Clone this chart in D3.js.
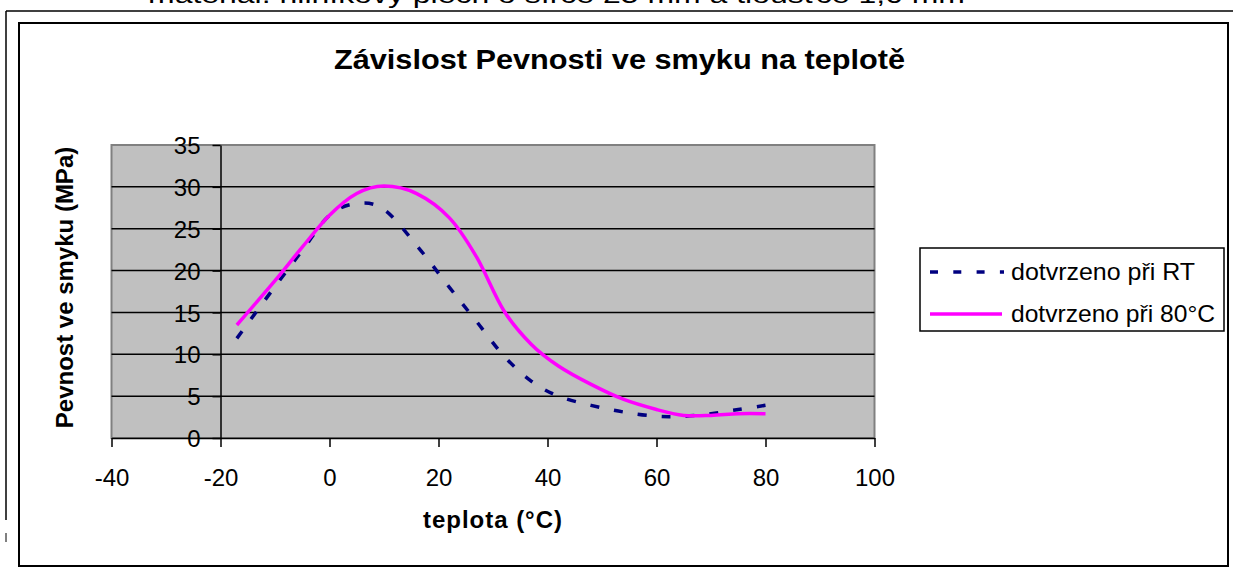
<!DOCTYPE html>
<html><head><meta charset="utf-8">
<script src="https://cdn.jsdelivr.net/npm/d3@7"></script>
<style>html,body{margin:0;padding:0;background:#fff;}svg{display:block;font-family:"Liberation Sans",Arial,sans-serif;}</style>
</head><body>
<svg id="c" width="1233" height="567"></svg>
<script>
const temperatures = [-17,-10,-5,0,5,10,16,22,27,32,37,42,48,54,60,65,70,75,80];
const seriesRT = [11.9,18.1,22.4,26.6,28.0,27.3,23.0,18.0,13.9,9.8,6.8,5.0,3.9,3.1,2.6,2.6,2.9,3.4,3.9];
const series80 = [13.5,18.8,22.8,26.6,29.2,30.1,29.2,26.3,21.6,15.2,11.2,8.6,6.4,4.6,3.4,2.7,2.7,2.9,2.9];
const seriesNames = ["dotvrzeno při RT","dotvrzeno při 80°C"];
const xTicks = [-40,-20,0,20,40,60,80,100];
const yTicks = [0,5,10,15,20,25,30,35];
const titleText = "Závislost Pevnosti ve smyku na teplotě";
const xLabel = "teplota (°C)";
const yLabel = "Pevnost ve smyku (MPa)";
const topText = "materiál: hliníkový plech o šířce 25 mm a tloušťce 1,6 mm";

const svg = d3.select("#c");
const x = d3.scaleLinear().domain([-40,100]).range([111.5,874.5]);
const y = d3.scaleLinear().domain([0,35]).range([438,145]);

// page text cut at top
svg.append("text").attr("x",148).attr("y",3).attr("font-size",24)
  .attr("textLength",817).attr("lengthAdjust","spacingAndGlyphs").text(topText);
// page border lines
svg.append("line").attr("x1",6).attr("x2",1233).attr("y1",11).attr("y2",11).attr("stroke","#000").attr("stroke-width",1.5);
svg.append("line").attr("x1",6).attr("x2",6).attr("y1",11).attr("y2",520).attr("stroke","#000").attr("stroke-width",1.5);
svg.append("line").attr("x1",6).attr("x2",6).attr("y1",533).attr("y2",542).attr("stroke","#000").attr("stroke-width",1);
// chart frame
svg.append("rect").attr("x",19).attr("y",23).attr("width",1209).attr("height",543)
  .attr("fill","#fff").attr("stroke","#000").attr("stroke-width",2);

// plot area
svg.append("rect").attr("x",x(-40)).attr("y",y(35)).attr("width",x(100)-x(-40)).attr("height",y(0)-y(35))
  .attr("fill","#C0C0C0").attr("stroke","#808080").attr("stroke-width",2);

// gridlines
svg.append("g").selectAll("line").data(yTicks.filter(d=>d>0&&d<35)).join("line")
  .attr("x1",x(-40)).attr("x2",x(100)).attr("y1",d=>y(d)).attr("y2",d=>y(d))
  .attr("stroke","#000").attr("stroke-width",1.5);

// x axis
const gx = svg.append("g").attr("transform",`translate(0,${y(0)})`)
  .call(d3.axisBottom(x).tickValues(xTicks).tickSize(9).tickSizeOuter(0).tickFormat(d3.format("d")));
gx.select(".domain").attr("stroke","#000").attr("stroke-width",1.5);
gx.selectAll(".tick line").attr("stroke","#000").attr("stroke-width",1.5);
gx.selectAll(".tick text").attr("font-size",24).attr("font-family",null).attr("fill","#000")
  .attr("dy",null).attr("y",48);
gx.selectAll("text").each(function(d){ this.textContent = d < 0 ? "-" + Math.abs(d) : String(d); });

// y axis at x = -20
const gy = svg.append("g").attr("transform",`translate(${x(-20)},0)`)
  .call(d3.axisLeft(y).tickValues(yTicks).tickSize(8).tickSizeOuter(0));
gy.select(".domain").attr("stroke","#000").attr("stroke-width",1.5);
gy.selectAll(".tick line").attr("stroke","#000").attr("stroke-width",1.5);
gy.selectAll(".tick text").attr("font-size",24).attr("font-family",null).attr("fill","#000")
  .attr("x",-20).attr("dy","0.36em");

// lines
const line = d3.line().x(d=>x(d[0])).y(d=>y(d[1])).curve(d3.curveCardinal.tension(0));
svg.append("path").datum(temperatures.map((t,i)=>[t,seriesRT[i]])).attr("d",line)
  .attr("fill","none").attr("stroke","#000080").attr("stroke-width",3.5).attr("stroke-dasharray","9,15");
svg.append("path").datum(temperatures.map((t,i)=>[t,series80[i]])).attr("d",line)
  .attr("fill","none").attr("stroke","#FF00FF").attr("stroke-width",3.5);

// legend
const lg = svg.append("g");
lg.append("rect").attr("x",920).attr("y",248).attr("width",304).attr("height",83)
  .attr("fill","#fff").attr("stroke","#000").attr("stroke-width",1.5);
lg.append("line").attr("x1",930).attr("x2",1004).attr("y1",272).attr("y2",272)
  .attr("stroke","#000080").attr("stroke-width",3.5).attr("stroke-dasharray","8,15.3");
lg.append("line").attr("x1",930).attr("x2",1002).attr("y1",314).attr("y2",314)
  .attr("stroke","#FF00FF").attr("stroke-width",3.5);
lg.append("text").attr("x",1011).attr("y",280).attr("font-size",24)
  .attr("textLength",184).attr("lengthAdjust","spacingAndGlyphs").text(seriesNames[0]);
lg.append("text").attr("x",1011).attr("y",322).attr("font-size",24)
  .attr("textLength",204).attr("lengthAdjust","spacingAndGlyphs").text(seriesNames[1]);

// titles
svg.append("text").attr("x",334).attr("y",69).attr("font-size",28).attr("font-weight","bold")
  .attr("textLength",571).attr("lengthAdjust","spacingAndGlyphs").text(titleText);
svg.append("text").attr("x",423).attr("y",528).attr("font-size",24).attr("font-weight","bold")
  .attr("textLength",139).attr("lengthAdjust","spacing").text(xLabel);
svg.append("text").attr("transform","translate(73,287.5) rotate(-90)").attr("text-anchor","middle")
  .attr("font-size",24).attr("font-weight","bold").text(yLabel);
</script>
</body></html>
